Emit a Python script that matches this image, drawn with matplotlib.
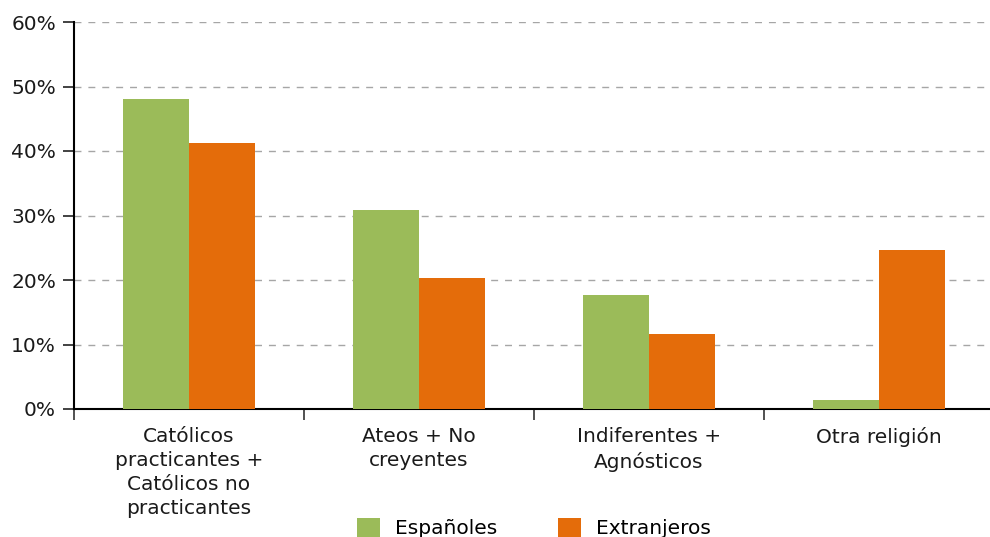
import matplotlib
matplotlib.use("Agg")
import matplotlib.pyplot as plt
import numpy as np
from matplotlib.patches import Patch

plt.rcParams['font.family'] = ['DejaVu Sans']

categories = ["Católicos\npracticantes +\nCatólicos no\npracticantes",
              "Ateos + No\ncreyentes",
              "Indiferentes +\nAgnósticos",
              "Otra religión"]
series_names = ["Españoles", "Extranjeros"]
espanoles = [48.1, 30.8, 17.6, 1.4]
extranjeros = [41.3, 20.3, 11.7, 24.7]
yticks = [0, 10, 20, 30, 40, 50, 60]
ytick_labels = ["0%", "10%", "20%", "30%", "40%", "50%", "60%"]

green = "#9BBB59"
orange = "#E46C0A"
FS = 14.5

W, H = 990, 537
fig = plt.figure(figsize=(W/100, H/100), dpi=100)
ax = fig.add_axes([74/W, (H-409)/H, 920/W, 387/H])

x = np.arange(len(categories))
bw = 0.287
ax.bar(x - bw/2, espanoles, width=bw, color=green, zorder=3)
ax.bar(x + bw/2, extranjeros, width=bw, color=orange, zorder=3)

ax.set_xlim(-0.5, len(categories) - 0.5)
ax.set_ylim(0, 60)
ax.set_yticks(yticks)
ax.set_yticklabels(ytick_labels, fontsize=FS, color="#1a1a1a")
ax.yaxis.grid(True, linestyle=(0, (5, 5)), color="#A6A6A6", linewidth=1, zorder=0)
ax.set_axisbelow(True)

ax.set_xticks(np.arange(-0.5, len(categories), 1.0))
ax.set_xticklabels([])
ax.tick_params(axis='x', length=8, width=1.2, color="#333333")
ax.tick_params(axis='y', length=8, width=1.2, color="#222222", pad=5)
for i, c in enumerate(categories):
    ax.text(i, -2.8, c, ha='center', va='top', fontsize=FS, color="#1a1a1a",
            linespacing=1.34, transform=ax.transData)

for s in ['top', 'right']:
    ax.spines[s].set_visible(False)
ax.spines['left'].set_linewidth(1.5)
ax.spines['bottom'].set_linewidth(1.5)

handles = [Patch(facecolor=green), Patch(facecolor=orange)]
fig.legend(handles, series_names, loc='center', bbox_to_anchor=(534/W, (H-528)/H),
           ncol=2, frameon=False, fontsize=FS, handlelength=1.15, handleheight=1.15,
           columnspacing=3.0, handletextpad=0.75)

fig.savefig("out.png", dpi=100)
